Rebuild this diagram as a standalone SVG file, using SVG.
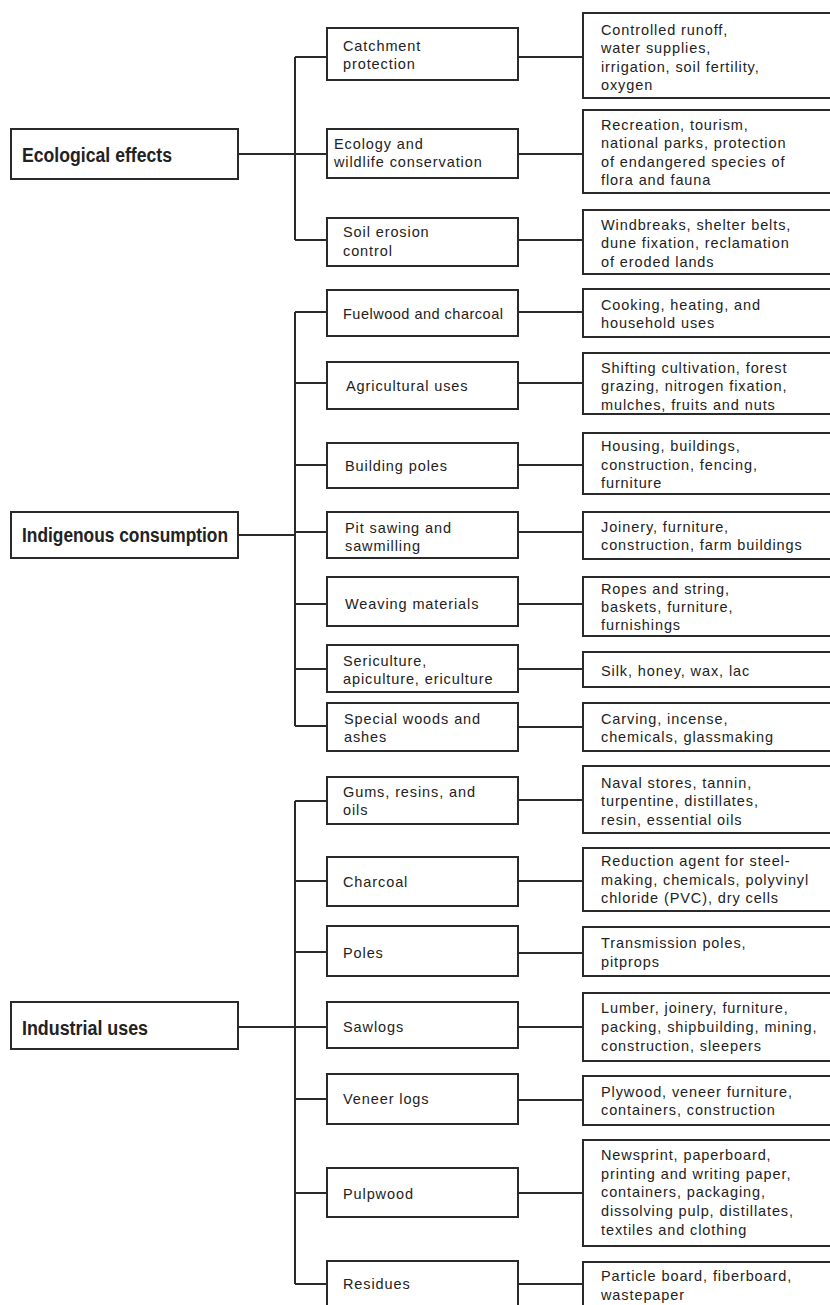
<svg xmlns="http://www.w3.org/2000/svg" width="830" height="1305" viewBox="0 0 830 1305">
<style>
.box{fill:#fff;stroke:#2a2a2a;stroke-width:2}
.t{font-family:"Liberation Sans",Arial,sans-serif;font-size:14.5px;letter-spacing:0.9px;fill:#222}
.h{font-family:"Liberation Sans",Arial,sans-serif;font-size:20px;font-weight:bold;fill:#222}
.c{fill:none;stroke:#2a2a2a;stroke-width:2}
</style>
<rect width="830" height="1305" fill="#fff"/>
<g id="connectors" class="c">
<path d="M238 154H295M295 57V240M295 57H327M295 154H327M295 240H327"/>
<path d="M238 535H295M295 312V726M295 312H327M295 383H327M295 465H327M295 532H327M295 604H327M295 669H327M295 726H327"/>
<path d="M238 1027H295M295 801V1284M295 801H327M295 881H327M295 952H327M295 1027H327M295 1099H327M295 1193H327M295 1284H327"/>
<path d="M518 57H583M518 154H583M518 240H583M518 312H583M518 383H583M518 465H583M518 532H583M518 604H583M518 669H583M518 727H583M518 800H583M518 881H583M518 953H583M518 1027H583M518 1100H583M518 1193H583M518 1284H583"/>
</g>
<g id="ecological">
<rect class="box" x="11" y="129" width="227" height="50"/>
<text class="h" x="22" y="162" textLength="150" lengthAdjust="spacingAndGlyphs">Ecological effects</text>
</g>
<g id="indigenous">
<rect class="box" x="11" y="512" width="227" height="46"/>
<text class="h" x="22" y="542" textLength="206" lengthAdjust="spacingAndGlyphs">Indigenous consumption</text>
</g>
<g id="industrial">
<rect class="box" x="11" y="1002" width="227" height="47"/>
<text class="h" x="22" y="1035" textLength="126" lengthAdjust="spacingAndGlyphs">Industrial uses</text>
</g>
<g id="catchment"><rect class="box" x="327" y="28" width="191" height="52"/><text class="t" x="343" y="51">Catchment</text><text class="t" x="343" y="69">protection</text></g>
<g id="ecology"><rect class="box" x="327" y="129" width="191" height="49"/><text class="t" x="334" y="149">Ecology and</text><text class="t" x="334" y="167">wildlife conservation</text></g>
<g id="soil"><rect class="box" x="327" y="218" width="191" height="48"/><text class="t" x="343" y="237">Soil erosion</text><text class="t" x="343" y="256">control</text></g>
<g id="fuelwood"><rect class="box" x="327" y="290" width="191" height="46"/><text class="t" x="343" y="319" style="letter-spacing:0.5px">Fuelwood and charcoal</text></g>
<g id="agricultural"><rect class="box" x="327" y="362" width="191" height="47"/><text class="t" x="346" y="391">Agricultural uses</text></g>
<g id="building"><rect class="box" x="327" y="443" width="191" height="45"/><text class="t" x="345" y="471">Building poles</text></g>
<g id="pitsawing"><rect class="box" x="327" y="512" width="191" height="46"/><text class="t" x="345" y="533">Pit sawing and</text><text class="t" x="345" y="551">sawmilling</text></g>
<g id="weaving"><rect class="box" x="327" y="577" width="191" height="49"/><text class="t" x="345" y="609">Weaving materials</text></g>
<g id="sericulture"><rect class="box" x="327" y="645" width="191" height="47"/><text class="t" x="343" y="666">Sericulture,</text><text class="t" x="343" y="684">apiculture, ericulture</text></g>
<g id="special"><rect class="box" x="327" y="703" width="191" height="48"/><text class="t" x="344" y="724">Special woods and</text><text class="t" x="344" y="742">ashes</text></g>
<g id="gums"><rect class="box" x="327" y="777" width="191" height="47"/><text class="t" x="343" y="797">Gums, resins, and</text><text class="t" x="343" y="815">oils</text></g>
<g id="charcoal"><rect class="box" x="327" y="857" width="191" height="49"/><text class="t" x="343" y="887">Charcoal</text></g>
<g id="poles"><rect class="box" x="327" y="926" width="191" height="50"/><text class="t" x="343" y="958">Poles</text></g>
<g id="sawlogs"><rect class="box" x="327" y="1002" width="191" height="46"/><text class="t" x="343" y="1032">Sawlogs</text></g>
<g id="veneer"><rect class="box" x="327" y="1074" width="191" height="50"/><text class="t" x="343" y="1104">Veneer logs</text></g>
<g id="pulpwood"><rect class="box" x="327" y="1168" width="191" height="49"/><text class="t" x="343" y="1199">Pulpwood</text></g>
<g id="residues"><rect class="box" x="327" y="1261" width="191" height="55"/><text class="t" x="343" y="1289">Residues</text></g>
<g id="r-catchment"><rect class="box" x="583" y="13" width="260" height="85"/><text class="t" x="601" y="35">Controlled runoff,</text><text class="t" x="601" y="53">water supplies,</text><text class="t" x="601" y="72">irrigation, soil fertility,</text><text class="t" x="601" y="90">oxygen</text></g>
<g id="r-ecology"><rect class="box" x="583" y="110" width="260" height="83"/><text class="t" x="601" y="130">Recreation, tourism,</text><text class="t" x="601" y="148">national parks, protection</text><text class="t" x="601" y="167">of endangered species of</text><text class="t" x="601" y="185">flora and fauna</text></g>
<g id="r-soil"><rect class="box" x="583" y="210" width="260" height="64"/><text class="t" x="601" y="230">Windbreaks, shelter belts,</text><text class="t" x="601" y="248">dune fixation, reclamation</text><text class="t" x="601" y="267">of eroded lands</text></g>
<g id="r-fuelwood"><rect class="box" x="583" y="289" width="260" height="48"/><text class="t" x="601" y="310">Cooking, heating, and</text><text class="t" x="601" y="328">household uses</text></g>
<g id="r-agricultural"><rect class="box" x="583" y="353" width="260" height="61"/><text class="t" x="601" y="373">Shifting cultivation, forest</text><text class="t" x="601" y="391">grazing, nitrogen fixation,</text><text class="t" x="601" y="410">mulches, fruits and nuts</text></g>
<g id="r-building"><rect class="box" x="583" y="433" width="260" height="61"/><text class="t" x="601" y="451">Housing, buildings,</text><text class="t" x="601" y="470">construction, fencing,</text><text class="t" x="601" y="488">furniture</text></g>
<g id="r-pitsawing"><rect class="box" x="583" y="512" width="260" height="47"/><text class="t" x="601" y="532">Joinery, furniture,</text><text class="t" x="601" y="550">construction, farm buildings</text></g>
<g id="r-weaving"><rect class="box" x="583" y="577" width="260" height="59"/><text class="t" x="601" y="594">Ropes and string,</text><text class="t" x="601" y="612">baskets, furniture,</text><text class="t" x="601" y="630">furnishings</text></g>
<g id="r-sericulture"><rect class="box" x="583" y="652" width="260" height="35"/><text class="t" x="601" y="676">Silk, honey, wax, lac</text></g>
<g id="r-special"><rect class="box" x="583" y="703" width="260" height="48"/><text class="t" x="601" y="724">Carving, incense,</text><text class="t" x="601" y="742">chemicals, glassmaking</text></g>
<g id="r-gums"><rect class="box" x="583" y="766" width="260" height="67"/><text class="t" x="601" y="788">Naval stores, tannin,</text><text class="t" x="601" y="806">turpentine, distillates,</text><text class="t" x="601" y="825">resin, essential oils</text></g>
<g id="r-charcoal"><rect class="box" x="583" y="848" width="260" height="63"/><text class="t" x="601" y="866">Reduction agent for steel-</text><text class="t" x="601" y="885">making, chemicals, polyvinyl</text><text class="t" x="601" y="903">chloride (PVC), dry cells</text></g>
<g id="r-poles"><rect class="box" x="583" y="927" width="260" height="49"/><text class="t" x="601" y="948">Transmission poles,</text><text class="t" x="601" y="967">pitprops</text></g>
<g id="r-sawlogs"><rect class="box" x="583" y="993" width="260" height="68"/><text class="t" x="601" y="1013">Lumber, joinery, furniture,</text><text class="t" x="601" y="1032">packing, shipbuilding, mining,</text><text class="t" x="601" y="1051">construction, sleepers</text></g>
<g id="r-veneer"><rect class="box" x="583" y="1076" width="260" height="49"/><text class="t" x="601" y="1097">Plywood, veneer furniture,</text><text class="t" x="601" y="1115">containers, construction</text></g>
<g id="r-pulpwood"><rect class="box" x="583" y="1140" width="260" height="106"/><text class="t" x="601" y="1160">Newsprint, paperboard,</text><text class="t" x="601" y="1179">printing and writing paper,</text><text class="t" x="601" y="1197">containers, packaging,</text><text class="t" x="601" y="1216">dissolving pulp, distillates,</text><text class="t" x="601" y="1235">textiles and clothing</text></g>
<g id="r-residues"><rect class="box" x="583" y="1262" width="260" height="55"/><text class="t" x="601" y="1281">Particle board, fiberboard,</text><text class="t" x="601" y="1300">wastepaper</text></g>
</svg>
